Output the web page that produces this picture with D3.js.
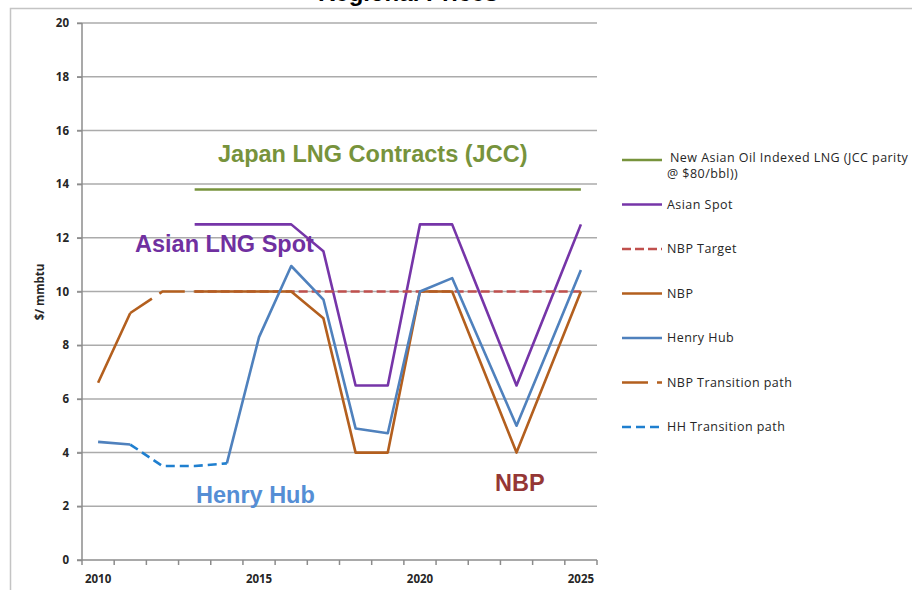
<!DOCTYPE html>
<html>
<head>
<meta charset="utf-8">
<script src="https://cdn.jsdelivr.net/npm/d3@7"></script>
<style>
  body { margin: 0; background: #fff; }
  svg { display: block; }
  .grid line { stroke: #ababab; stroke-width: 1.5px; }
  .axis path, .axis line { stroke: #8c8c8c; stroke-width: 1.5px; }
  .axis text { font-family: "Open Sans", sans-serif; font-size: 11.5px; font-weight: 700; fill: #262626; }
  .legend text { font-family: "Open Sans", sans-serif; font-size: 12.5px; letter-spacing: 0.45px; fill: #262626; }
  .note { font-family: "Liberation Sans", Arial, sans-serif; font-weight: 700; font-size: 23.5px; }
</style>
</head>
<body>
<div id="chart"></div>
<script>
var width = 912, height = 590;

// data, $/mmbtu, null = no point
var years = d3.range(2010, 2026);
var jcc         = [null, null, null, 13.8, 13.8, 13.8, 13.8, 13.8, 13.8, 13.8, 13.8, 13.8, 13.8, 13.8, 13.8, 13.8];
var asianSpot   = [null, null, null, 12.5, 12.5, 12.5, 12.5, 11.5, 6.5, 6.5, 12.5, 12.5, 9.5, 6.5, 9.5, 12.5];
var nbpTarget   = [null, null, null, 10, 10, 10, 10, 10, 10, 10, 10, 10, 10, 10, 10, 10];
var nbp         = [6.6, 9.2, null, 10, 10, 10, 10, 9.0, 4.0, 4.0, 10, 10, 7.0, 4.0, 7.0, 10];
var henryHub    = [4.4, 4.3, null, null, 3.6, 8.3, 10.95, 9.7, 4.9, 4.72, 10.0, 10.5, 7.75, 5.0, 7.9, 10.8];
var nbpTrans    = [null, 9.2, 10, 10, null, null, null, null, null, null, null, null, null, null, null, null];
var hhTrans     = [null, 4.3, 3.5, 3.5, 3.6, null, null, null, null, null, null, null, null, null, null, null];
var yTicks      = d3.range(0, 21, 2);
var xLabels     = [2010, 2015, 2020, 2025];

var series = [
  {name: "New Asian Oil Indexed LNG (JCC parity", name2: "@ $80/bbl))", values: jcc, color: "#77933c", dash: null},
  {name: "Asian Spot", values: asianSpot, color: "#7635a8", dash: null},
  {name: "NBP Target", values: nbpTarget, color: "#c0504d", dash: "9 4"},
  {name: "NBP", values: nbp, color: "#b35f1e", dash: null},
  {name: "Henry Hub", values: henryHub, color: "#4f81bd", dash: null},
  {name: "NBP Transition path", values: nbpTrans, color: "#b35f1e", dash: "26 9"},
  {name: "HH Transition path", values: hhTrans, color: "#1f7fcf", dash: "9 5"}
];

var svg = d3.select("#chart").append("svg")
    .attr("width", width)
    .attr("height", height);

svg.append("rect").attr("width", width).attr("height", height).attr("fill", "#fff");

// chart frame, runs off the right and bottom
svg.append("rect")
    .attr("x", 10.5).attr("y", 8.5)
    .attr("width", 950).attr("height", 650)
    .attr("fill", "none").attr("stroke", "#c4c4c4").attr("stroke-width", 1.5);

// title, mostly cut off at the top
svg.append("text")
    .attr("x", 408).attr("y", 0.5)
    .attr("text-anchor", "middle")
    .attr("font-family", "Liberation Sans, Arial, sans-serif")
    .attr("font-weight", 700).attr("font-size", 24)
    .text("Regional Prices");

var x = d3.scaleBand().domain(years).range([82, 597]);
var y = d3.scaleLinear().domain([0, 20]).range([560, 23]);
var cx = function(d) { return x(d) + x.bandwidth() / 2; };

svg.append("g")
    .attr("class", "grid")
    .selectAll("line")
    .data(yTicks.filter(function(t) { return t > 0; }))
    .enter().append("line")
    .attr("x1", 77).attr("x2", 597)
    .attr("y1", function(d) { return y(d); })
    .attr("y2", function(d) { return y(d); });

var yAxis = svg.append("g")
    .attr("class", "axis")
    .attr("transform", "translate(82,0)")
    .call(d3.axisLeft(y).tickValues(yTicks).tickSize(5).tickSizeOuter(0).tickPadding(8));
yAxis.select(".domain").attr("d", "M0," + y(20) + "V" + y(0));

// x axis: ticks at the band edges, labels every 5 years
var xg = svg.append("g").attr("class", "axis");
xg.append("line").attr("x1", 77).attr("x2", 597).attr("y1", y(0)).attr("y2", y(0));
xg.selectAll(".tk")
    .data(years.concat([2026]))
    .enter().append("line")
    .attr("class", "tk")
    .attr("x1", function(d) { return d === 2026 ? 597 : x(d); })
    .attr("x2", function(d) { return d === 2026 ? 597 : x(d); })
    .attr("y1", y(0)).attr("y2", y(0) + 5);
xg.selectAll("text")
    .data(xLabels)
    .enter().append("text")
    .attr("x", cx)
    .attr("y", 583)
    .attr("text-anchor", "middle")
    .text(function(d) { return d; });

svg.append("text")
    .attr("transform", "translate(44,292) rotate(-90)")
    .attr("text-anchor", "middle")
    .attr("font-family", "Open Sans, sans-serif")
    .attr("font-size", 11.5).attr("font-weight", 700).attr("fill", "#262626")
    .text("$/ mmbtu");

var line = d3.line()
    .defined(function(d) { return d.v !== null; })
    .x(function(d) { return cx(d.year); })
    .y(function(d) { return y(d.v); });

svg.append("g")
    .selectAll("path")
    .data(series)
    .enter().append("path")
    .attr("fill", "none")
    .attr("stroke", function(s) { return s.color; })
    .attr("stroke-width", 2.6)
    .attr("stroke-linejoin", "round")
    .attr("stroke-dasharray", function(s) { return s.dash; })
    .attr("d", function(s) {
      return line(s.values.map(function(v, i) { return {year: years[i], v: v}; }));
    });

// text labels on the plot
var notes = [
  {text: "Japan LNG Contracts (JCC)", x: 218, y: 162, color: "#77933c"},
  {text: "Asian LNG Spot", x: 135, y: 252, color: "#7030a0"},
  {text: "Henry Hub", x: 196, y: 503, color: "#558ed5"},
  {text: "NBP", x: 495, y: 491, color: "#953735"}
];
svg.append("g")
    .selectAll("text")
    .data(notes)
    .enter().append("text")
    .attr("class", "note")
    .attr("x", function(d) { return d.x; })
    .attr("y", function(d) { return d.y; })
    .attr("fill", function(d) { return d.color; })
    .text(function(d) { return d.text; });

// legend
var legend = svg.append("g")
    .attr("class", "legend")
    .selectAll("g")
    .data(series)
    .enter().append("g")
    .attr("transform", function(d, i) { return "translate(622," + (160 + i * 44.5) + ")"; });

legend.append("line")
    .attr("x1", 0).attr("x2", 40)
    .attr("stroke", function(d) { return d.color; })
    .attr("stroke-width", 2.6)
    .attr("stroke-dasharray", function(d) { return d.dash; });

legend.append("text")
    .attr("x", function(d, i) { return i === 0 ? 48 : 45; })
    .attr("y", function(d, i) { return i === 0 ? 2 : 4; })
    .text(function(d) { return d.name; });

legend.filter(function(d) { return d.name2; })
    .append("text")
    .attr("x", 45).attr("y", 18)
    .text(function(d) { return d.name2; });
</script>
</body>
</html>
